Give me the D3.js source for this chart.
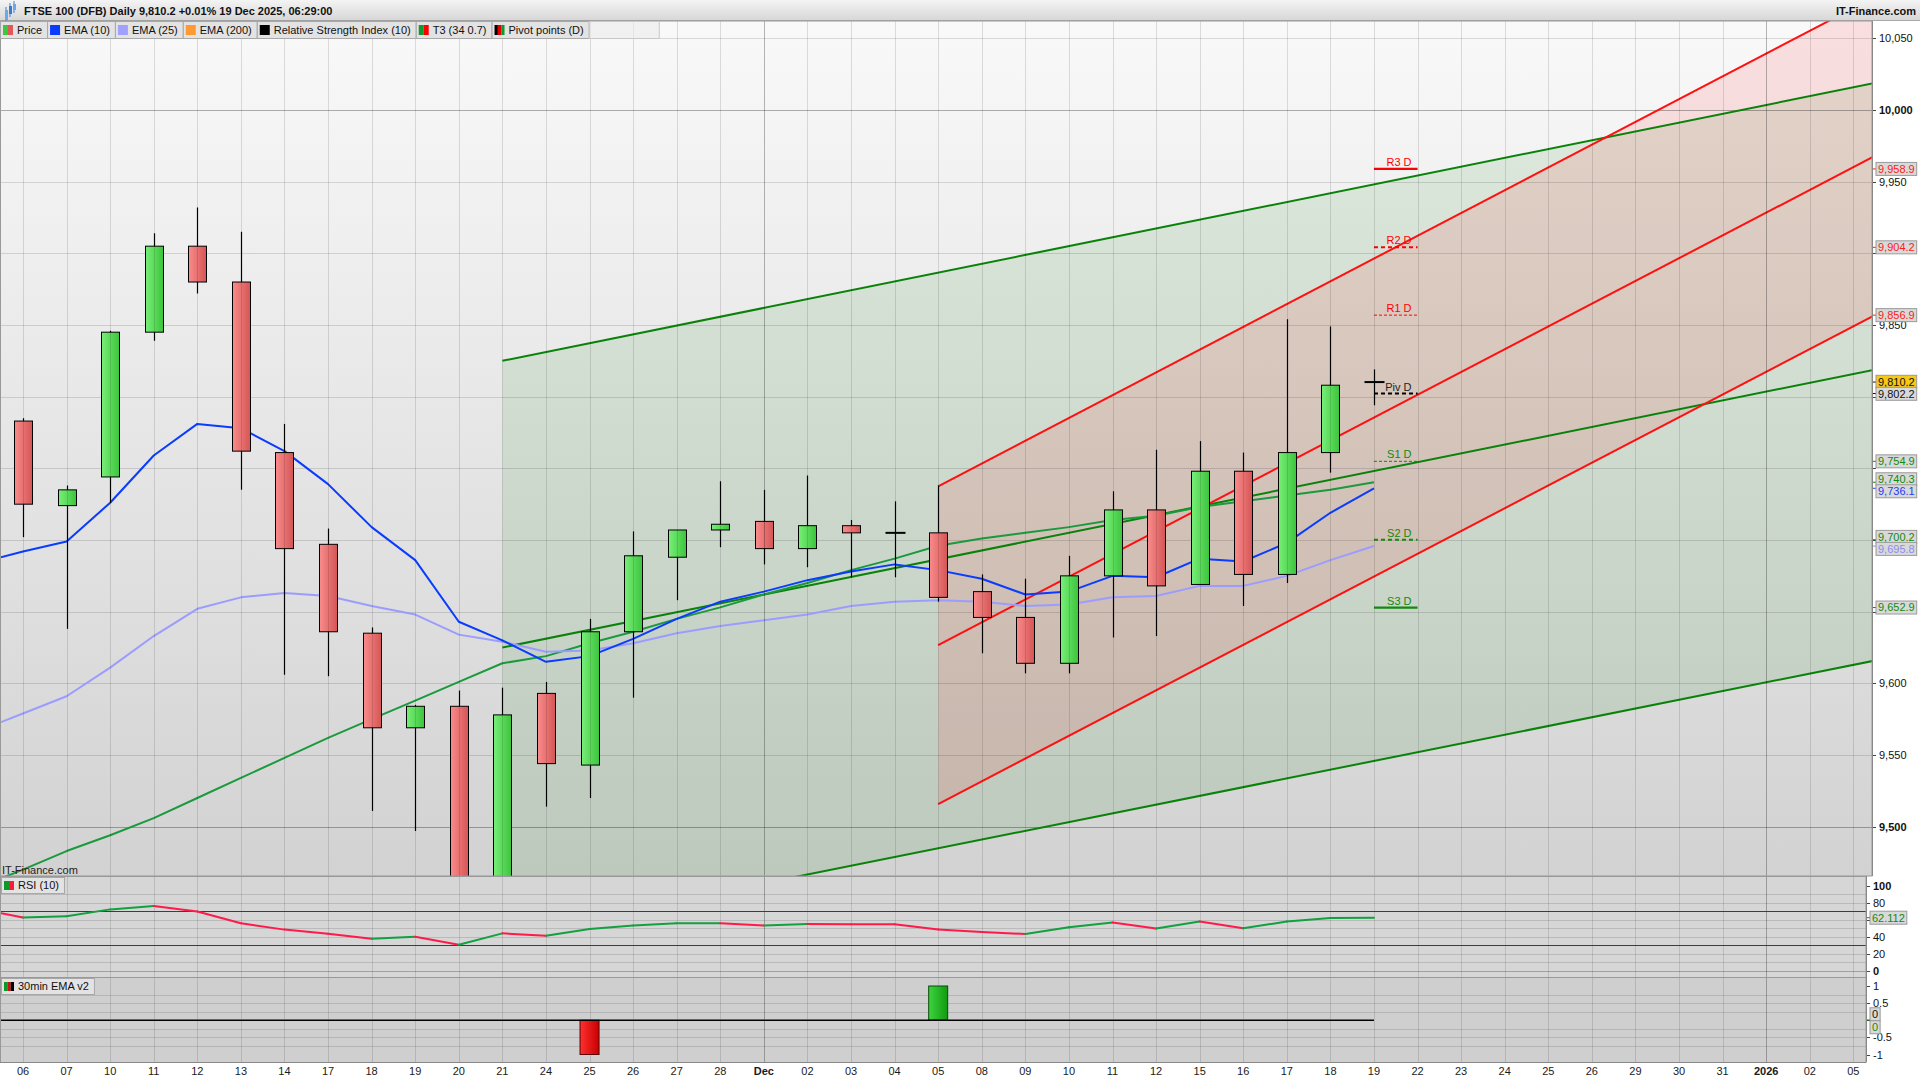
<!DOCTYPE html>
<html><head><meta charset="utf-8">
<script src="https://cdn.jsdelivr.net/npm/d3@7"></script>
<style>
body{margin:0;background:#fff;}
svg{display:block;font-family:"Liberation Sans",Arial,Helvetica,sans-serif;}
</style>
</head><body>
<svg id="c" width="1920" height="1080"></svg>
<script>
// ---------------- DATA ----------------
const dates=["06","07","10","11","12","13","14","17","18","19","20","21","24","25","26","27","28","Dec","02","03","04","05","08","09","10","11","12","15","16","17","18","19","22","23","24","25","26","29","30","31","2026","02","05"];
const boldDates=["Dec","2026"];
const monthStarts=[17,40];
const candleOpen =[9783,9724,9744,9845,9905,9880,9761,9697,9635,9569,9584,9446,9593,9543,9636,9688,9707,9713,9694,9710,9705,9705,9664,9646,9614,9675,9721,9669,9748,9676,9761,9809.8];
const candleHigh =[9785,9738,9846,9914,9932,9915,9781,9708,9639,9585,9595,9597,9601,9645,9706,9707,9741,9735,9745,9714,9727,9738,9676,9673,9689,9734,9763,9769,9761,9854,9849,9819];
const candleLow  =[9702,9638,9726,9839,9872,9735,9606,9605,9511,9497,9430,9425,9514,9520,9590,9658,9695,9683,9681,9674,9674,9657,9621,9607,9607,9632,9633,9669,9654,9670,9747,9794];
const candleClose=[9725,9735,9845,9905,9880,9762,9694,9636,9569,9584,9446,9578,9544,9636,9689,9707,9711,9694,9710,9705,9705,9660,9646,9614,9675,9721,9668,9748,9676,9761,9808,9810.2];
// indicator series start one session before the first label (index -1)
const seriesStart=-1;
const ema10=[9684,9692,9699,9726,9759,9781,9778,9762,9739,9709,9686,9643,9630,9615,9619,9631,9645,9657,9664,9672,9678,9683,9679,9673,9662,9664,9675,9674,9687,9685,9698,9719,9736.1];
const ema25=[9567,9579,9591,9611,9633,9652,9660,9663,9661,9654,9648,9634,9629,9622,9623,9628,9635,9640,9644,9648,9654,9657,9658,9657,9654,9655,9660,9661,9668,9668,9675,9686,9695.8];
const t3   =[9458,9470,9483,9494,9506,9520,9534,9548,9562,9575,9588,9601,9614,9619,9628,9636,9645,9653,9662,9670,9679,9687,9696,9701,9705,9709,9714,9717,9723,9727,9731,9735,9740.3];
const rsi  =[72.3,62.4,63.9,71.9,75.8,69.5,55.6,48.1,43.3,37.4,39.8,30.2,43.7,40.9,48.8,52.9,55.6,55.7,52.9,54.6,54.4,54.3,48.1,45.2,42.9,50.8,56.4,49.3,57.6,49.6,57.6,61.8,62.112];
const emaSignal=[0,0,0,0,0,0,0,0,0,0,0,0,0,0,-1,0,0,0,0,0,0,0,1,0,0,0,0,0,0,0,0,0,0];
// trend channels: [startIndex, startValue, endIndex, endValue]
const greenChannel=[[11,9825,43,10022],[11,9625,43,9822],[11,9424,43,9619]];
const redChannel=[[21,9737.5,43,10087],[21,9626.7,43,9976],[21,9515.8,43,9865]];
const pivotNames=["R3 D","R2 D","R1 D","Piv D","S1 D","S2 D","S3 D"];
const pivotValues=[9958.9,9904.2,9856.9,9802.2,9754.9,9700.2,9652.9];
const pivotIndex=[31,32];
const lastPrice=9810.2;
const priceTicks=[9500,9550,9600,9650,9700,9750,9800,9850,9900,9950,10000,10050];
const rsiTicks=[0,20,40,60,80,100];
const rsiBands=[30,70];
const emaTicks=[-1,-0.5,0,0.5,1];
const titleText="FTSE 100 (DFB) Daily 9,810.2 +0.01% 19 Dec 2025, 06:29:00";
const legendItems=["Price","EMA (10)","EMA (25)","EMA (200)","Relative Strength Index (10)","T3 (34 0.7)","Pivot points (D)"];
const legendIcons=[["#3cc83c","#e05858"],["#0a3cff"],["#a0a0ff"],["#ff9a33"],["#000000"],["#109a30","#ff0000"],["#000000","#e00000","#109a30"]];

// ---------------- LAYOUT ----------------
const mainTop=21, mainBot=876, mainRight=1872;
const rsiTop=876, rsiBot=977, emaTop=977, emaBot=1062, lowRight=1866;
const svg=d3.select("#c");
const x=d3.scaleLinear().domain([0,42]).range([23,23+42*43.58]);
const yM=d3.scaleLinear().domain([9465.6,10062.1]).range([mainBot,mainTop]);
const yR=d3.scaleLinear().domain([0,100]).range([970.5,885.5]);
const yE=d3.scaleLinear().domain([-1,1]).range([1054.5,986]);
const fmt=d3.format(",.1f"), fmtT=d3.format(",");

const defs=svg.append("defs");
function lg(id,stops,vertical){
  const g=defs.append("linearGradient").attr("id",id).attr("x1",0).attr("y1",0).attr("x2",vertical?0:1).attr("y2",vertical?1:0);
  stops.forEach((c,i)=>g.append("stop").attr("offset",i/(stops.length-1)).attr("stop-color",c));
}
lg("bgMain",["#f9f9f9","#d2d2d2"],true);
lg("bgTitle",["#f4f4f4","#d6d6d6"],true);
lg("gUp",["#78ef78","#3cc43c"],false);
lg("gDn",["#f98c8c","#d55555"],false);
lg("bUp",["#3fd33f","#109a10"],false);
lg("bDn",["#ff3030","#c80000"],false);
function clip(id,x0,y0,w,h){defs.append("clipPath").attr("id",id).append("rect").attr("x",x0).attr("y",y0).attr("width",w).attr("height",h);}
clip("cMain",0,mainTop,mainRight,mainBot-mainTop);
clip("cRsi",0,rsiTop,lowRight,rsiBot-rsiTop);
clip("cEma",0,emaTop,lowRight,emaBot-emaTop);

// ---------------- BACKGROUNDS ----------------
svg.append("rect").attr("width",1920).attr("height",1080).attr("fill","#ffffff");
svg.append("rect").attr("x",0).attr("y",0).attr("width",1920).attr("height",mainTop).attr("fill","url(#bgTitle)");
svg.append("rect").attr("x",0).attr("y",mainTop).attr("width",mainRight).attr("height",mainBot-mainTop).attr("fill","url(#bgMain)");
svg.append("rect").attr("x",0).attr("y",rsiTop).attr("width",lowRight).attr("height",rsiBot-rsiTop).attr("fill","#d6d6d6");
svg.append("rect").attr("x",0).attr("y",emaTop).attr("width",lowRight).attr("height",emaBot-emaTop).attr("fill","#cfcfcf");

// ---------------- MAIN PANEL ----------------
const gm=svg.append("g").attr("clip-path","url(#cMain)");
function chanPts(c){return [[x(c[0]),yM(c[1])],[x(c[2]),yM(c[3])]];}
function bandPoly(up,lo){
  const a=chanPts(up), b=chanPts(lo);
  return [a[0],a[1],b[1],b[0]];
}
gm.append("polygon").attr("points",bandPoly(greenChannel[0],greenChannel[2]).map(p=>p.join(",")).join(" ")).attr("fill","rgba(0,120,0,0.095)");
gm.append("polygon").attr("points",bandPoly(redChannel[0],redChannel[2]).map(p=>p.join(",")).join(" ")).attr("fill","rgba(255,0,0,0.1)");
// grid
priceTicks.forEach(v=>{
  gm.append("line").attr("x1",0).attr("x2",mainRight).attr("y1",Math.round(yM(v))+0.5).attr("y2",Math.round(yM(v))+0.5)
    .attr("stroke",v%500===0?"rgba(0,0,0,0.3)":"rgba(0,0,0,0.13)");
});
dates.forEach((d,i)=>{
  const xx=Math.round(x(i))+0.5;
  [[mainTop,mainBot],[rsiTop,rsiBot],[emaTop,emaBot]].forEach((r,k)=>{
    svg.append("line").attr("x1",xx).attr("x2",xx).attr("y1",r[0]).attr("y2",r[1])
      .attr("stroke",monthStarts.includes(i)?"rgba(0,0,0,0.28)":"rgba(0,0,0,0.12)");
  });
});
// channel lines
greenChannel.forEach(c=>{const p=chanPts(c);gm.append("line").attr("x1",p[0][0]).attr("y1",p[0][1]).attr("x2",p[1][0]).attr("y2",p[1][1]).attr("stroke","#0a820a").attr("stroke-width",2);});
redChannel.forEach(c=>{const p=chanPts(c);gm.append("line").attr("x1",p[0][0]).attr("y1",p[0][1]).attr("x2",p[1][0]).attr("y2",p[1][1]).attr("stroke","#ff1010").attr("stroke-width",2);});
// indicator lines
function seriesLine(arr,color,w){
  const ln=d3.line().x((d,i)=>x(i+seriesStart)).y(d=>yM(d));
  gm.append("path").attr("d",ln(arr)).attr("fill","none").attr("stroke",color).attr("stroke-width",w).attr("stroke-linejoin","round");
}
seriesLine(t3,"#1a9a3c",2);
seriesLine(ema25,"#9c9cff",2);
seriesLine(ema10,"#0a3cff",2);
// candles
candleOpen.forEach((o,i)=>{
  const c=candleClose[i], h=candleHigh[i], l=candleLow[i];
  const cx=Math.round(x(i))+0.5;
  gm.append("line").attr("x1",cx).attr("x2",cx).attr("y1",yM(h)).attr("y2",yM(l)).attr("stroke","#000").attr("stroke-width",1.2);
  if(Math.abs(o-c)<1){
    gm.append("line").attr("x1",cx-10).attr("x2",cx+10).attr("y1",yM(c)).attr("y2",yM(c)).attr("stroke","#000").attr("stroke-width",2);
  } else {
    const top=yM(Math.max(o,c)), bot=yM(Math.min(o,c));
    gm.append("rect").attr("x",cx-9).attr("y",top).attr("width",18).attr("height",Math.max(1,bot-top))
      .attr("fill",c>o?"url(#gUp)":"url(#gDn)").attr("stroke","#000").attr("stroke-width",1);
  }
});
// pivots
const pivColors=["#ff0000","#ff0000","#ff0000","#000000","#108a10","#108a10","#108a10"];
const pivDash=[null,"4,3","3,2","4,3","3,2","4,3",null];
const pivWidth=[2.2,2,1,2,1,2,2.2];
pivotValues.forEach((v,k)=>{
  const yy=yM(v);
  gm.append("line").attr("x1",x(pivotIndex[0])).attr("x2",x(pivotIndex[1])).attr("y1",yy).attr("y2",yy)
    .attr("stroke",pivColors[k]).attr("stroke-width",pivWidth[k]).attr("stroke-dasharray",pivDash[k]);
  gm.append("text").attr("x",x(pivotIndex[1])-6).attr("y",yy-3).attr("text-anchor","end").attr("font-size",11)
    .attr("fill",k===3?"#222":pivColors[k]).text(pivotNames[k]);
});
// watermark
svg.append("text").attr("x",2).attr("y",874).attr("font-size",11).attr("fill","#222").text("IT-Finance.com");

// ---------------- RSI PANEL ----------------
const gr=svg.append("g").attr("clip-path","url(#cRsi)");
d3.range(10,100,10).forEach(v=>{
  if(rsiBands.includes(v)) return;
  gr.append("line").attr("x1",0).attr("x2",lowRight).attr("y1",Math.round(yR(v))+0.5).attr("y2",Math.round(yR(v))+0.5).attr("stroke","rgba(0,0,0,0.13)");
});
gr.append("line").attr("x1",0).attr("x2",lowRight).attr("y1",Math.round(yR(0))+0.5).attr("y2",Math.round(yR(0))+0.5).attr("stroke","rgba(0,0,0,0.25)");
rsiBands.forEach(v=>gr.append("line").attr("x1",0).attr("x2",lowRight).attr("y1",Math.round(yR(v))+0.5).attr("y2",Math.round(yR(v))+0.5).attr("stroke","#2a2ad0").attr("stroke-width",1.2));
for(let i=0;i<rsi.length-1;i++){
  gr.append("line").attr("x1",x(i+seriesStart)).attr("y1",yR(rsi[i])).attr("x2",x(i+1+seriesStart)).attr("y2",yR(rsi[i+1]))
    .attr("stroke",rsi[i+1]>=rsi[i]?"#12a040":"#ff1a4a").attr("stroke-width",2).attr("stroke-linecap","round");
}

// ---------------- 30min EMA PANEL ----------------
const ge=svg.append("g").attr("clip-path","url(#cEma)");
[-0.75,-0.5,-0.25,0.25,0.5,0.75].forEach(v=>ge.append("line").attr("x1",0).attr("x2",lowRight).attr("y1",Math.round(yE(v))+0.5).attr("y2",Math.round(yE(v))+0.5).attr("stroke","rgba(0,0,0,0.12)"));
emaSignal.forEach((v,i)=>{
  if(v===0) return;
  const cx=x(i+seriesStart);
  const y0=yE(0), y1=yE(v);
  ge.append("rect").attr("x",cx-9.5).attr("y",Math.min(y0,y1)).attr("width",19).attr("height",Math.abs(y1-y0))
    .attr("fill",v>0?"url(#bUp)":"url(#bDn)").attr("stroke",v>0?"#0a4a0a":"#5a0000").attr("stroke-width",1);
});
const zl=d3.line().x((d,i)=>x(i+seriesStart)).y(()=>yE(0));
ge.append("path").attr("d",zl(emaSignal)).attr("stroke","#000").attr("stroke-width",1.5).attr("fill","none");

// ---------------- PANEL BORDERS ----------------
svg.append("line").attr("x1",0).attr("x2",1920).attr("y1",mainTop-0.5).attr("y2",mainTop-0.5).attr("stroke","#a8a8a8");
svg.append("rect").attr("x",0.5).attr("y",mainTop).attr("width",mainRight-0.5).attr("height",mainBot-mainTop).attr("fill","none").attr("stroke","#999");
svg.append("rect").attr("x",0.5).attr("y",rsiTop+0.5).attr("width",lowRight-0.5).attr("height",rsiBot-rsiTop).attr("fill","none").attr("stroke","#999");
svg.append("rect").attr("x",0.5).attr("y",emaTop+0.5).attr("width",lowRight-0.5).attr("height",emaBot-emaTop).attr("fill","none").attr("stroke","#999");

// ---------------- VALUE BOXES (positions) ----------------
const boxes=[];
pivotValues.forEach((v,k)=>boxes.push({v,y:yM(v),t:fmt(v),c:k<3?"#ff1a1a":(k===3?"#111":"#108a10"),bg:"#d9d9d9"}));
boxes.push({v:lastPrice,y:yM(lastPrice),t:fmt(lastPrice),c:"#111",bg:"#f7c815"});
boxes.push({v:t3[t3.length-1],y:yM(t3[t3.length-1]),t:fmt(t3[t3.length-1]),c:"#108a10",bg:"#d9d9d9"});
boxes.push({v:ema10[ema10.length-1],y:yM(ema10[ema10.length-1]),t:fmt(ema10[ema10.length-1]),c:"#1a3cff",bg:"#d9d9d9"});
boxes.push({v:ema25[ema25.length-1],y:yM(ema25[ema25.length-1]),t:fmt(ema25[ema25.length-1]),c:"#8c8cf0",bg:"#d9d9d9"});
boxes.sort((a,b)=>a.y-b.y);
boxes.forEach(b=>b.ly=b.y);
for(let it=0;it<30;it++){
  for(let i=1;i<boxes.length;i++){
    const d=boxes[i].ly-boxes[i-1].ly;
    if(d<12){const s=(12-d)/2;boxes[i-1].ly-=s;boxes[i].ly+=s;}
  }
}
const rsiLast=rsi[rsi.length-1];
const rsiBoxes=[{y:yR(rsiLast),ly:yR(rsiLast),t:d3.format(".3f")(rsiLast),c:"#108a10",bg:"#d9d9d9"}];
const emaBoxes=[{y:yE(0),ly:yE(0)-6,t:"0",c:"#111",bg:"#d9d9d9"},{y:yE(0),ly:yE(0)+7,t:"0",c:"#108a10",bg:"#d9d9d9"}];
// a tick label fully hidden by a value box is not drawn (as in the reference)
function hidden(yy,list){return list.some(b=>Math.abs(b.ly-yy)<7.5);}

// ---------------- AXES ----------------
const ax=svg.append("g").attr("font-size",11).attr("fill","#111");
priceTicks.forEach(v=>{
  const yy=Math.round(yM(v))+0.5;
  ax.append("line").attr("x1",mainRight).attr("x2",mainRight+4).attr("y1",yy).attr("y2",yy).attr("stroke","#444");
  if(!hidden(yy,boxes))
    ax.append("text").attr("x",mainRight+7).attr("y",yy).attr("dy","0.35em").attr("font-weight",v%500===0?"bold":"normal").text(fmtT(v));
});
rsiTicks.forEach(v=>{
  const yy=Math.round(yR(v))+0.5;
  ax.append("line").attr("x1",lowRight).attr("x2",lowRight+4).attr("y1",yy).attr("y2",yy).attr("stroke","#444");
  if(!hidden(yy,rsiBoxes))
    ax.append("text").attr("x",lowRight+7).attr("y",yy).attr("dy","0.35em").attr("font-weight",(v===0||v===100)?"bold":"normal").text(v);
});
emaTicks.forEach(v=>{
  const yy=Math.round(yE(v))+0.5;
  ax.append("line").attr("x1",lowRight).attr("x2",lowRight+4).attr("y1",yy).attr("y2",yy).attr("stroke","#444");
  if(v!==0)
    ax.append("text").attr("x",lowRight+7).attr("y",yy).attr("dy","0.35em").text(v);
});
dates.forEach((d,i)=>{
  ax.append("text").attr("x",x(i)).attr("y",1075).attr("text-anchor","middle").attr("font-weight",boldDates.includes(d)?"bold":"normal").attr("fill","#1a1a1a").text(d);
});

function valueBox(xl,b){
  ax.append("line").attr("x1",xl-4).attr("x2",xl).attr("y1",b.y).attr("y2",b.y).attr("stroke",b.c);
  const t=ax.append("text").attr("x",xl+2).attr("y",b.ly).attr("dy","0.36em").attr("fill",b.c).text(b.t);
  const w=t.node().getComputedTextLength();
  ax.insert("rect","text:last-child").attr("x",xl).attr("y",b.ly-6.5).attr("width",w+4).attr("height",13).attr("fill",b.bg).attr("stroke","#9a9a9a");
  t.raise();
}
boxes.forEach(b=>valueBox(mainRight+4,b));
rsiBoxes.forEach(b=>valueBox(lowRight+4,b));
emaBoxes.forEach(b=>valueBox(lowRight+4,b));
// axis lines
svg.append("line").attr("x1",mainRight+0.5).attr("x2",mainRight+0.5).attr("y1",mainTop).attr("y2",mainBot).attr("stroke","#888");
svg.append("line").attr("x1",lowRight+0.5).attr("x2",lowRight+0.5).attr("y1",rsiTop).attr("y2",emaBot).attr("stroke","#888");
svg.append("line").attr("x1",0).attr("x2",lowRight).attr("y1",emaBot+0.5).attr("y2",emaBot+0.5).attr("stroke","#888");

// ---------------- TITLE & LEGENDS ----------------
const ic=svg.append("g");
[[5,8,14,"#6aa8e8"],[9,4,12,"#3a7ad0"],[13,2,10,"#6aa8e8"]].forEach(r=>{
  ic.append("line").attr("x1",r[0]+1).attr("x2",r[0]+1).attr("y1",r[1]-1).attr("y2",r[1]+r[2]+1).attr("stroke","#4a80c8");
  ic.append("rect").attr("x",r[0]).attr("y",r[1]+2).attr("width",3).attr("height",r[2]-4).attr("fill",r[3]);
});
svg.append("text").attr("x",24).attr("y",11).attr("dy","0.35em").attr("font-size",11).attr("font-weight","bold").attr("fill","#111").text(titleText);
svg.append("text").attr("x",1916).attr("y",11).attr("dy","0.35em").attr("text-anchor","end").attr("font-size",11).attr("font-weight","bold").attr("fill","#111").text("IT-Finance.com");

function legendBox(x0,y0,label,icons,h){
  const g=svg.append("g");
  const r=g.append("rect").attr("x",x0+0.5).attr("y",y0+0.5).attr("height",h).attr("fill","#e3e3e3").attr("stroke","#a8a8a8");
  const iw=10/icons.length;
  icons.forEach((c,k)=>g.append("rect").attr("x",x0+3+k*iw).attr("y",y0+4).attr("width",iw).attr("height",h-7).attr("fill",c));
  const t=g.append("text").attr("x",x0+17).attr("y",y0+h/2+0.5).attr("dy","0.35em").attr("font-size",11).attr("fill","#111").text(label);
  const w=t.node().getComputedTextLength()+22;
  r.attr("width",w);
  return w;
}
let lx=0;
legendItems.forEach((l,k)=>{lx+=legendBox(lx,21,l,legendIcons[k],17);});
svg.append("rect").attr("x",lx+0.5).attr("y",21.5).attr("width",70).attr("height",17).attr("fill","rgba(235,235,235,0.6)").attr("stroke","#c8c8c8");
legendBox(1,877,"RSI (10)",["#0a9a2a","#ff1a3a"],16);
legendBox(1,978,"30min EMA v2",["#0a9a2a","#d01010","#000000"],16);
</script>
</body></html>
